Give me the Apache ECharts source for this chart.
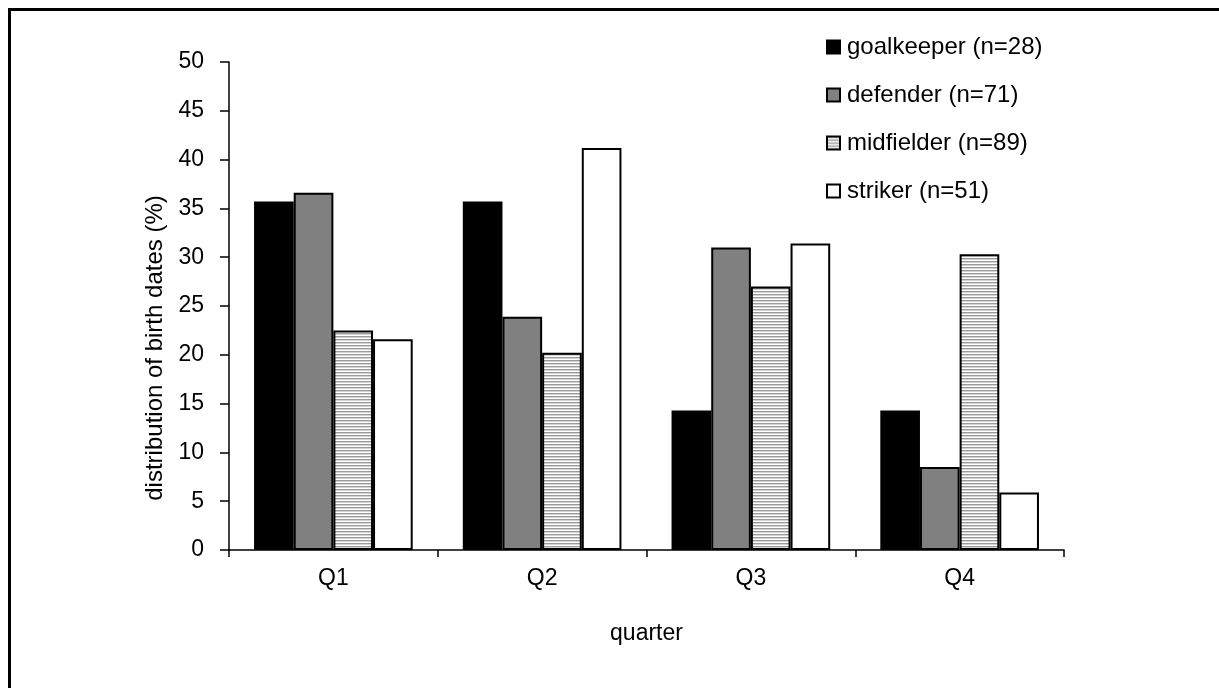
<!DOCTYPE html>
<html>
<head>
<meta charset="utf-8">
<script src="https://cdn.jsdelivr.net/npm/echarts@6/dist/echarts.min.js"></script>
<style>
html,body{margin:0;padding:0;background:#fff;}
#main{width:1219px;height:688px;}
</style>
</head>
<body>
<div id="main"></div>
<script>
const categories = ['Q1', 'Q2', 'Q3', 'Q4'];
const seriesNames = ['goalkeeper (n=28)', 'defender (n=71)', 'midfielder (n=89)', 'striker (n=51)'];
const goalkeeper = [35.7, 35.7, 14.3, 14.3];
const defender = [36.6, 23.9, 31.0, 8.5];
const midfielder = [22.5, 20.2, 27.0, 30.3];
const striker = [21.6, 41.2, 31.4, 5.9];
const yTicks = [0, 5, 10, 15, 20, 25, 30, 35, 40, 45, 50];

// stripe pattern for midfielder
const pc = document.createElement('canvas');
pc.width = 8; pc.height = 3;
const pctx = pc.getContext('2d');
pctx.fillStyle = '#ffffff'; pctx.fillRect(0, 0, 8, 3);
pctx.fillStyle = '#9a9a9a'; pctx.fillRect(0, 0, 8, 1);
pctx.fillStyle = '#d4d4d4'; pctx.fillRect(0, 1, 8, 1);

const fills = ['#000000', '#808080', {image: pc, repeat: 'repeat'}, '#ffffff'];
const dataSets = [goalkeeper, defender, midfielder, striker];
const FONT = 'Liberation Sans, Arial, sans-serif';

const chart = echarts.init(document.getElementById('main'), null, {renderer: 'canvas'});
chart.setOption({
  backgroundColor: '#ffffff',
  animation: false,
  graphic: [{
    type: 'rect',
    shape: {x: 9.5, y: 9.5, width: 1400, height: 900},
    style: {fill: 'none', stroke: '#000', lineWidth: 3},
    silent: true
  }],
  grid: {left: 229, top: 62, right: 155, bottom: 138, containLabel: false},
  legend: {
    orient: 'vertical',
    left: 821,
    top: 30,
    itemWidth: 13,
    itemHeight: 13,
    itemGap: 24,
    icon: 'rect',
    textStyle: {fontFamily: FONT, fontSize: 24, color: '#000', lineHeight: 24, padding: [0, 0, 0, 2]},
    data: seriesNames
  },
  xAxis: {
    type: 'category',
    data: categories,
    boundaryGap: true,
    name: 'quarter',
    nameLocation: 'middle',
    nameGap: 72,
    nameTextStyle: {fontFamily: FONT, fontSize: 23, color: '#000'},
    axisLine: {lineStyle: {color: '#000', width: 1.5}},
    axisTick: {show: true, length: 7, lineStyle: {color: '#000', width: 1.5}},
    axisLabel: {fontFamily: FONT, fontSize: 23, color: '#000', margin: 17},
    splitLine: {show: false}
  },
  yAxis: {
    type: 'value',
    min: yTicks[0],
    max: yTicks[yTicks.length - 1],
    interval: 5,
    name: 'distribution of birth dates (%)',
    nameLocation: 'middle',
    nameGap: 62,
    nameTextStyle: {fontFamily: FONT, fontSize: 24, color: '#000', padding: [0, 84, 0, 0]},
    axisLine: {show: true, lineStyle: {color: '#000', width: 1.5}},
    axisTick: {show: true, length: 9, lineStyle: {color: '#000', width: 1.5}},
    axisLabel: {fontFamily: FONT, fontSize: 23, color: '#000', margin: 25},
    splitLine: {show: false}
  },
  series: dataSets.map((d, i) => ({
    name: seriesNames[i],
    type: 'bar',
    data: d,
    barGap: '0%',
    barCategoryGap: '24%',
    itemStyle: {color: fills[i], borderColor: '#000', borderWidth: 2},
    emphasis: {disabled: true}
  }))
});
</script>
</body>
</html>
